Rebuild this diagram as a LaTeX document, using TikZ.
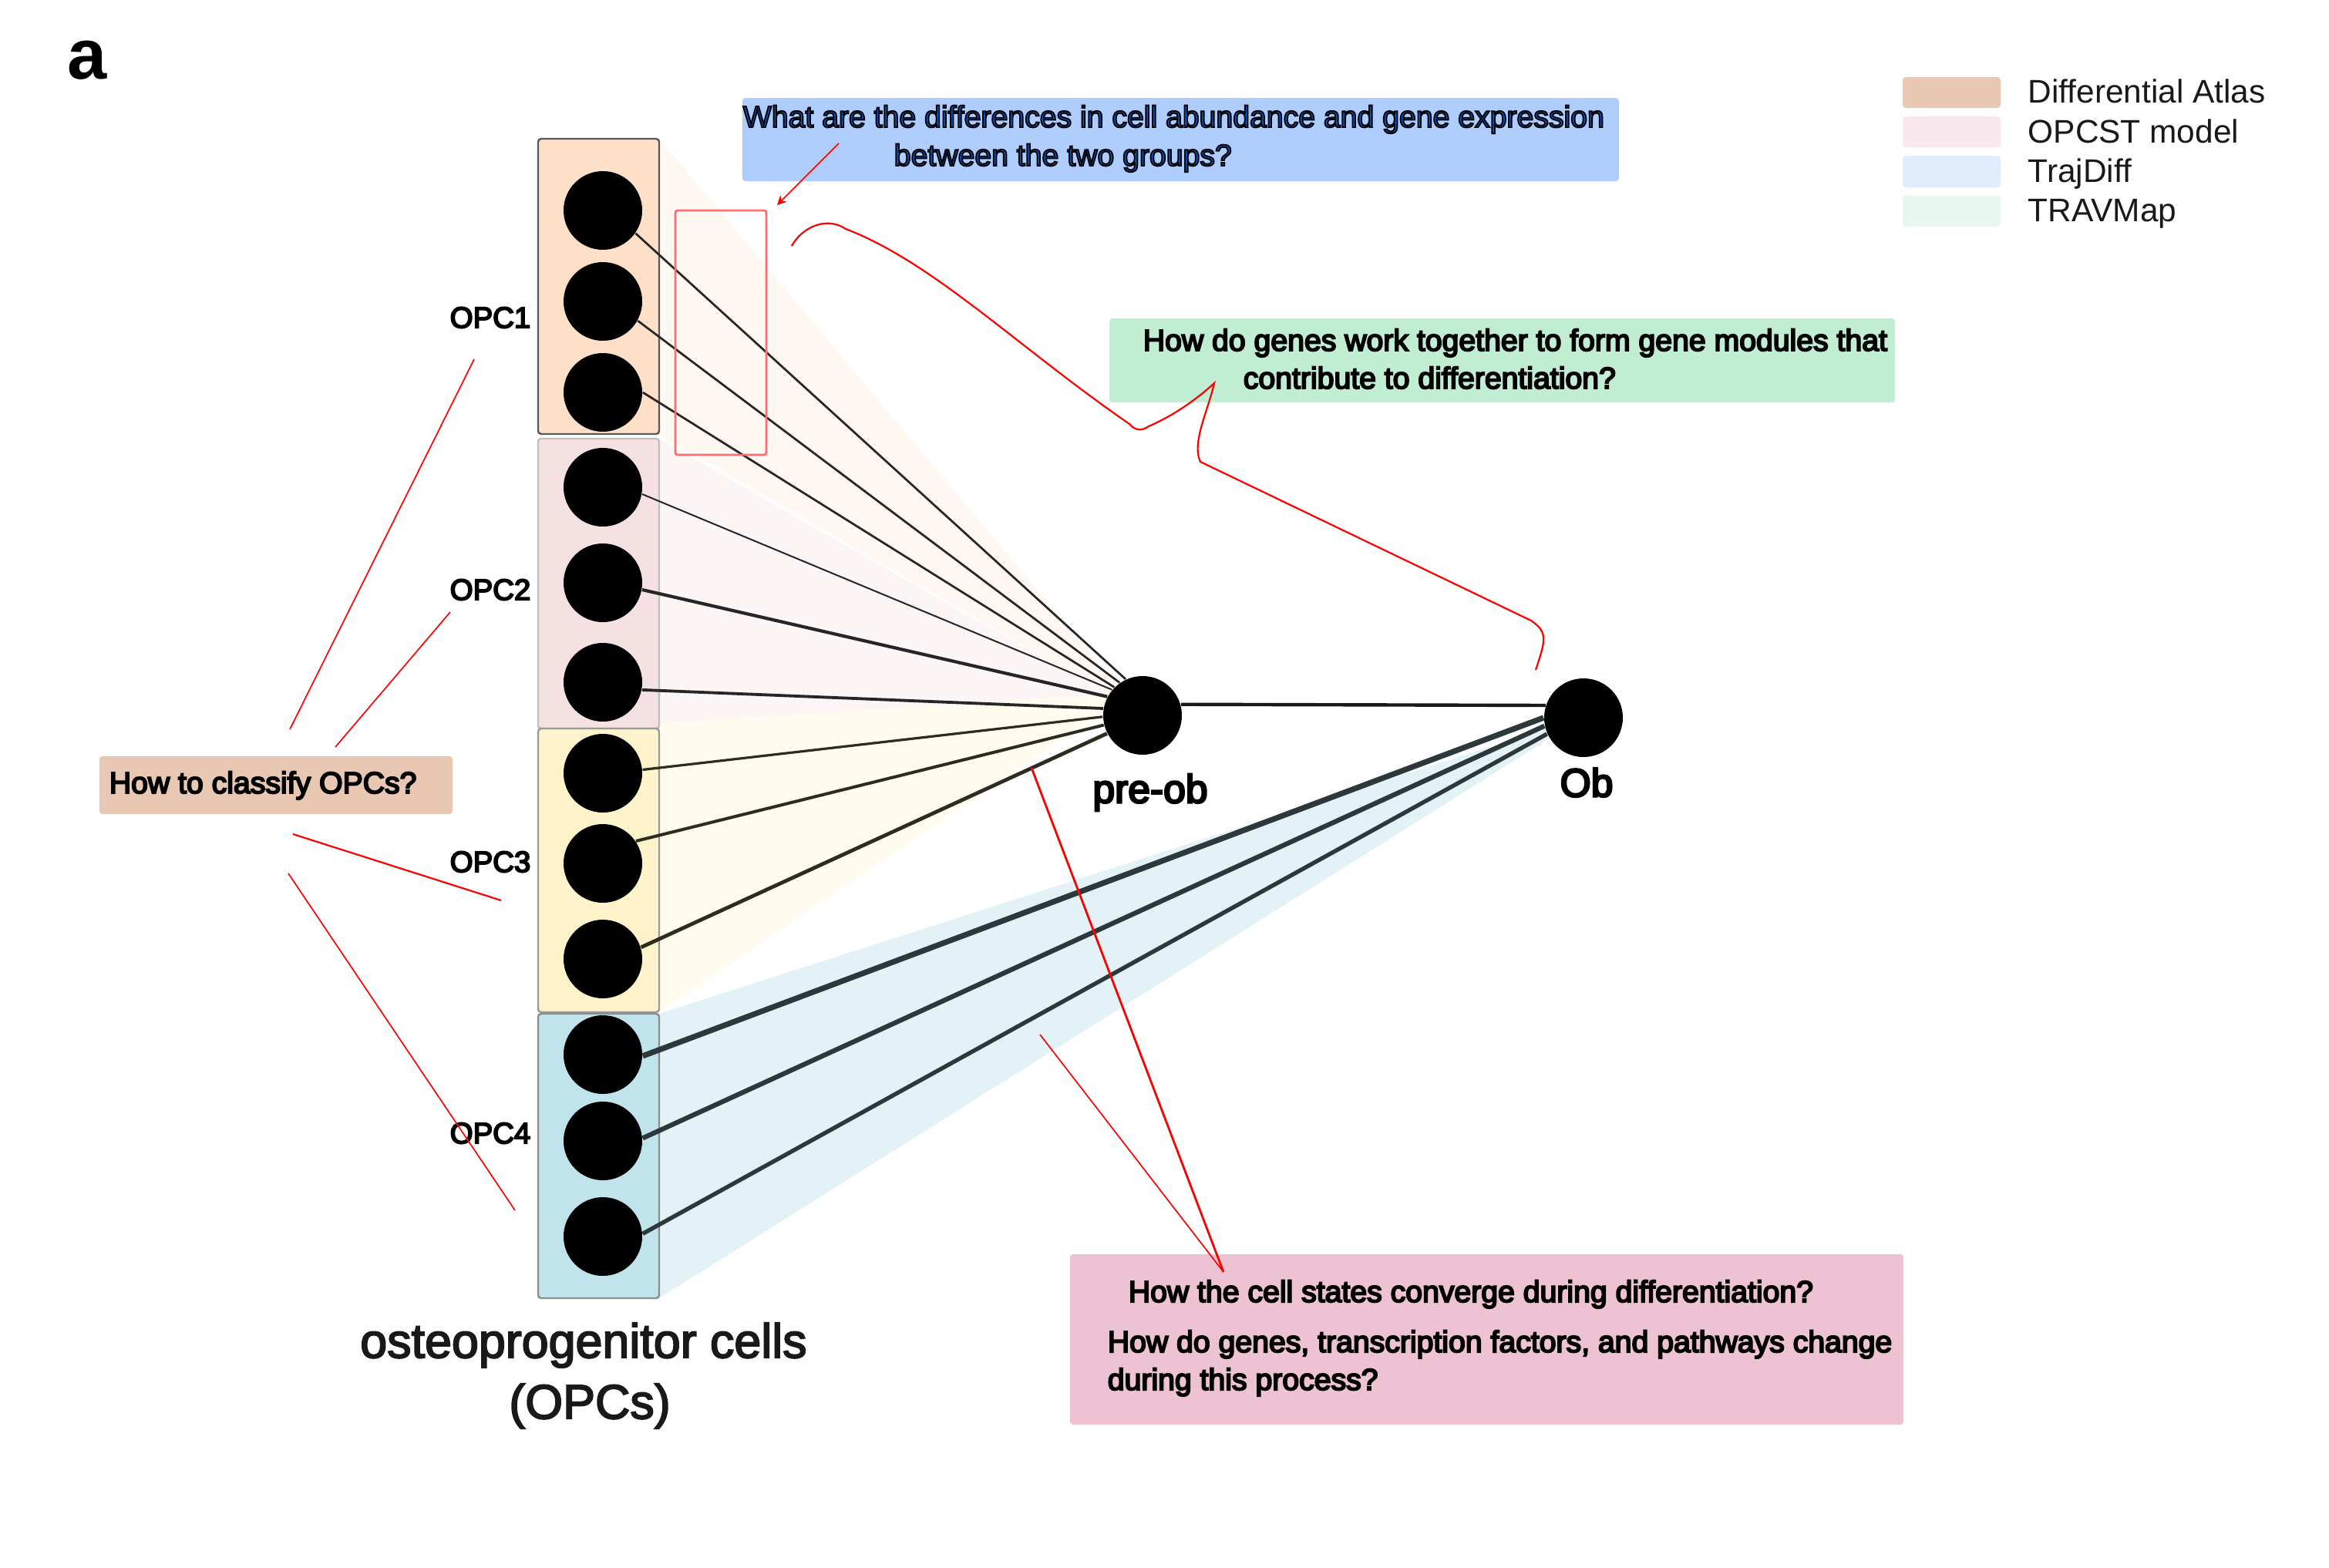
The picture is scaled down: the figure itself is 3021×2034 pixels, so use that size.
\documentclass[tikz,border=0pt]{standalone}
\usepackage{fontspec}
\setmainfont{Liberation Sans}
\newfontfamily\qfont{Liberation Sans}[FakeBold=5]
\newfontfamily\hfont{Liberation Sans}[FakeBold=3]
\usetikzlibrary{arrows.meta}
\definecolor{redline}{HTML}{FF0000}
\definecolor{fanA}{HTML}{FFF8F2}
\definecolor{fanB}{HTML}{FBF5F5}
\definecolor{fanC}{HTML}{FFFBEE}
\definecolor{fanD}{HTML}{E3F2F7}
\newcommand{\bluetext}[1]{\special{pdf:bcolor [0.02 0.36 0.85] [0 0 0]}#1\special{pdf:ecolor}}
\tikzset{
  cell/.style={circle,fill=black,draw=none,minimum size=25.5pt,inner sep=0pt},
  group/.style={rounded corners=1pt,line width=.6pt,draw=#1},
  qbox/.style={rounded corners=1pt,draw=none},
  txt/.style={anchor=base west,inner sep=0pt,font=\qfont\fontsize{9.8}{11}\selectfont,text=black},
  lbl/.style={anchor=center,inner sep=0pt,font=\qfont\fontsize{9.6}{11}\selectfont,text=black},
  big/.style={anchor=center,inner sep=0pt,font=\qfont\fontsize{12.9}{15}\selectfont,text=black},
  huge/.style={anchor=center,inner sep=0pt,font=\hfont\fontsize{15.7}{18}\selectfont,text=black!90},
  legtxt/.style={anchor=base west,inner sep=0pt,font=\fontsize{10.6}{12}\selectfont,text=black!90},
  redA/.style={draw=redline,line width=.42pt},
  redB/.style={draw=redline,line width=.7pt},
  link/.style={draw=black!85,line width=#1},
  olive/.style={draw={rgb,255:red,46;green,44;blue,32},line width=#1},
  obl/.style={draw={rgb,255:red,44;green,56;blue,60},line width=#1},
}
\begin{document}
\begin{tikzpicture}[x=0.25pt,y=-0.25pt]
\useasboundingbox (0,0) rectangle (3021,2034);
% fans
\fill[fanA] (855,180) -- (1482,928) -- (855,563) -- cycle;
\fill[fanB] (855,569) -- (1482,928) -- (855,945) -- cycle;
\fill[fanC] (855,938) -- (1445,900) -- (1445,912) -- (855,1313) -- cycle;
\fill[fanD] (855,1315) -- (2054,930) -- (855,1684) -- cycle;
% groups
\fill[fill=white] (698,180) rectangle (855,1684);
\path[group=black!65,fill={rgb,255:red,254;green,223;blue,200}] (698,180) rectangle (855,563);
\path[group=black!25,fill={rgb,255:red,245;green,225;blue,225}] (698,569) rectangle (855,945);
\path[group=black!40,fill={rgb,255:red,255;green,243;blue,203}] (698,945) rectangle (855,1313);
\path[group=black!45,fill={rgb,255:red,193;green,227;blue,236}] (698,1315) rectangle (855,1684);
% cells
\node[cell] (c1) at (782,273) {};
\node[cell] (c2) at (782,391) {};
\node[cell] (c3) at (782,509) {};
\node[cell] (c4) at (782,632) {};
\node[cell] (c5) at (782,756) {};
\node[cell] (c6) at (782,885) {};
\node[cell] (c7) at (782,1003) {};
\node[cell] (c8) at (782,1120) {};
\node[cell] (c9) at (782,1244) {};
\node[cell] (c10) at (782,1368) {};
\node[cell] (c11) at (782,1480) {};
\node[cell] (c12) at (782,1604) {};
\node[cell] (pre) at (1482,928) {};
\node[cell] (ob) at (2054,931) {};
% links
\draw[link=.68pt] (c1.-35) -- (pre.115);
\draw[link=.68pt] (c2.-29) -- (pre.125);
\draw[link=.68pt] (c3.0) -- (pre.135);
\draw[link=.5pt] (c4.-10) -- (pre.140);
\draw[link=1.05pt] (c5.-10) -- (pre.152);
\draw[link=.95pt] (c6.-11) -- (pre.170);
\draw[olive=.8pt] (c7.5) -- (pre.182);
\draw[olive=1pt] (c8.34) -- (pre.194);
\draw[olive=1.2pt] (c9.17) -- (pre.207);
\draw[draw=black!90,line width=1.1pt] (pre.16) -- (ob.162);
\draw[obl=1.8pt] (c10.-2) -- (ob.180);
\draw[obl=1.55pt] (c11.4) -- (ob.192);
\draw[obl=1.35pt] (c12.4) -- (ob.204);
% question boxes
\path[qbox,fill={rgb,255:red,174;green,205;blue,253}] (963,127) rectangle (2100,235);
\path[qbox,fill={rgb,255:red,193;green,237;blue,211}] (1439,413) rectangle (2458,522);
\path[qbox,fill={rgb,255:red,232;green,200;blue,178}] (129,981) rectangle (587,1056);
\path[qbox,fill={rgb,255:red,237;green,194;blue,211}] (1388,1627) rectangle (2469,1848);
% texts
\node[txt] (t1) at (963,165) {\bluetext{What are the differences in cell abundance and gene expression}};
\node[txt] (t2) at (1159,215) {\bluetext{between the two groups?}};
\node[txt] (t3) at (1482,455) {How do genes work together to form gene modules that};
\node[txt] (t4) at (1612,504) {contribute to differentiation?};
\node[txt] (t5) at (141,1029) {How to classify OPCs?};
\node[txt] (t6) at (1463,1689) {How the cell states converge during differentiation?};
\node[txt] (t7) at (1436,1754) {How do genes, transcription factors, and pathways change};
\node[txt] (t8) at (1436,1803) {during this process?};
\node[lbl] (o1) at (636,412) {OPC1};
\node[lbl] (o2) at (636,765) {OPC2};
\node[lbl] (o3) at (636,1118) {OPC3};
\node[lbl] (o4) at (636,1470) {OPC4};
\node[big] (preL) at (1492,1028) {pre-ob};
\node[big] (obL) at (2058,1015) {Ob};
\node[huge] (osL) at (757,1745) {osteoprogenitor cells};
\node[huge] (osM) at (765,1824) {(OPCs)};
\node[anchor=base west,inner sep=0pt,font=\bfseries\fontsize{23}{26}\selectfont] (letter) at (87,102) {a};
% legend
\path[qbox,fill={rgb,255:red,232;green,200;blue,178}] (2468,100) rectangle (2595,140);
\path[qbox,fill={rgb,255:red,248;green,231;blue,236}] (2468,151) rectangle (2595,191);
\path[qbox,fill={rgb,255:red,225;green,236;blue,253}] (2468,202) rectangle (2595,243);
\path[qbox,fill={rgb,255:red,232;green,247;blue,238}] (2468,254) rectangle (2595,294);
\node[legtxt] (l1) at (2630,133) {Differential Atlas};
\node[legtxt] (l2) at (2630,185) {OPCST model};
\node[legtxt] (l3) at (2630,236) {TrajDiff};
\node[legtxt] (l4) at (2630,287) {TRAVMap};
% red annotation
\path[draw={rgb,255:red,255;green,110;blue,110},line width=.7pt,rounded corners=.7pt] (876,273) rectangle (994,590);
\coordinate (a1) at (1088,186);
\coordinate (a2) at (1008,266);
\draw[redA,-{Stealth[length=3pt,width=3pt]}] (a1) -- (a2);
\coordinate (e1a) at (376,946);
\coordinate (e1b) at (615,466);
\coordinate (e2a) at (435,969);
\coordinate (e2b) at (584,794);
\coordinate (e3a) at (380,1082);
\coordinate (e3b) at (650,1168);
\coordinate (e4a) at (374,1133);
\coordinate (e4b) at (668,1570);
\draw[redA] (e1a) -- (e1b);
\draw[redA] (e2a) -- (e2b);
\draw[draw=redline,line width=.55pt] (e3a) -- (e3b);
\draw[redA] (e4a) -- (e4b);
\coordinate (p1) at (1338,996);
\coordinate (p2) at (1349,1342);
\coordinate (p3) at (1587,1650);
\draw[redB] (p1) -- (p3);
\draw[redA] (p2) -- (p3);
\draw[draw=redline,line width=.55pt] (1027,319) .. controls (1040,295) and (1072,280) .. (1097,297)
  .. controls (1210,340) and (1320,450) .. (1465,550)
  .. controls (1472,558) and (1480,560) .. (1490,553)
  .. controls (1520,540) and (1550,520) .. (1575,497)
  .. controls (1568,530) and (1545,575) .. (1557,599)
  -- (1986,805)
  .. controls (2008,820) and (2005,830) .. (1992,869);
\end{tikzpicture}
\end{document}
